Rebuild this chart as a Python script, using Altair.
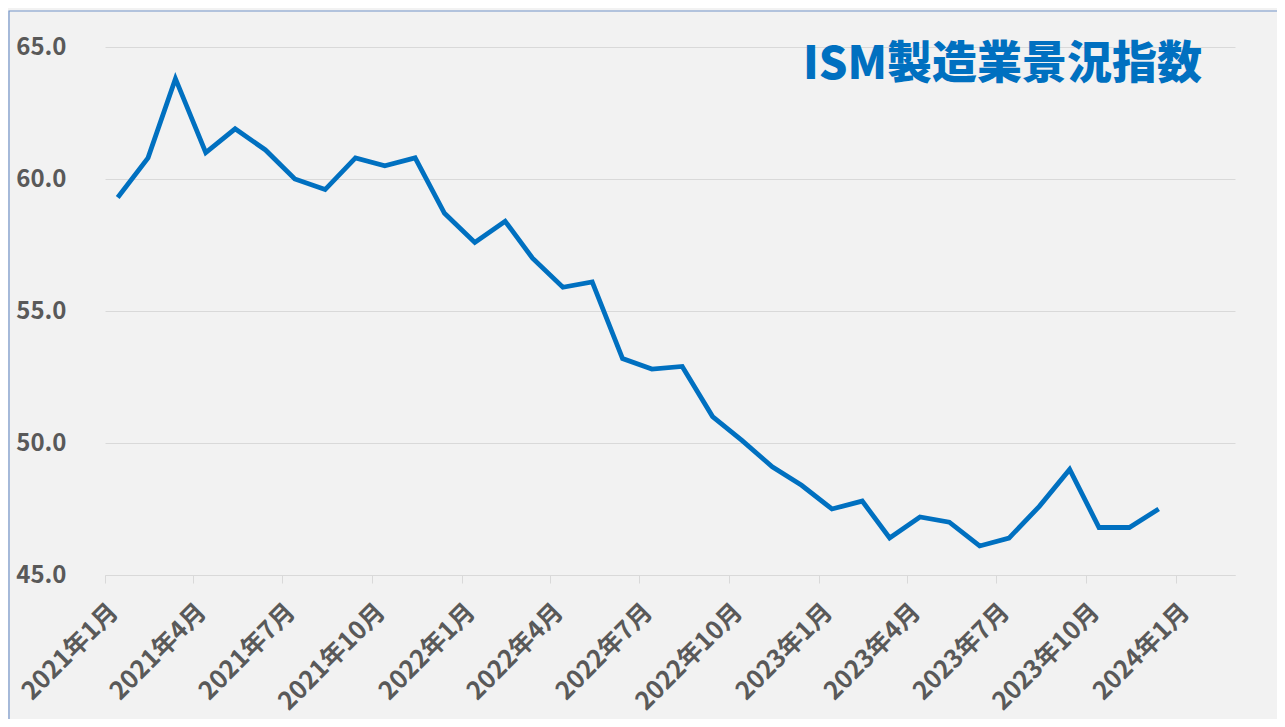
import altair as alt
import pandas as pd

# Data
dates = [
    "2021-01-14", "2021-02-14", "2021-03-14", "2021-04-14", "2021-05-14", "2021-06-14",
    "2021-07-14", "2021-08-14", "2021-09-14", "2021-10-14", "2021-11-14", "2021-12-14",
    "2022-01-14", "2022-02-14", "2022-03-14", "2022-04-14", "2022-05-14", "2022-06-14",
    "2022-07-14", "2022-08-14", "2022-09-14", "2022-10-14", "2022-11-14", "2022-12-14",
    "2023-01-14", "2023-02-14", "2023-03-14", "2023-04-14", "2023-05-14", "2023-06-14",
    "2023-07-14", "2023-08-14", "2023-09-14", "2023-10-14", "2023-11-14", "2023-12-14",
]
values = [
    59.3, 60.8, 63.8, 61.0, 61.9, 61.1, 60.0, 59.6, 60.8, 60.5, 60.8, 58.7,
    57.6, 58.4, 57.0, 55.9, 56.1, 53.2, 52.8, 52.9, 51.0, 50.1, 49.1, 48.4,
    47.5, 47.8, 46.4, 47.2, 47.0, 46.1, 46.4, 47.6, 49.0, 46.8, 46.8, 47.5,
]
tick_years = [2021, 2021, 2021, 2021, 2022, 2022, 2022, 2022, 2023, 2023, 2023, 2023, 2024]
tick_months = [1, 4, 7, 10, 1, 4, 7, 10, 1, 4, 7, 10, 1]
y_ticks = [45, 50, 55, 60, 65]
title_text = ["ISM製造業景況指数"]

df = pd.DataFrame({"date": dates, "value": values})

FONT = "Noto Sans CJK JP"
GREY = "#595959"
GRID = "#d9d9d9"
BLUE = "#0070c0"

x_domain = [alt.DateTime(year=2021, month=1, date=1, utc=True),
            alt.DateTime(year=2024, month=3, date=1, utc=True)]
x_values = [alt.DateTime(year=yy, month=mm, date=1, utc=True)
            for yy, mm in zip(tick_years, tick_months)]

line = alt.Chart(df).mark_line(color=BLUE, strokeWidth=4.8, strokeJoin="miter").encode(
    x=alt.X("date:T",
            scale=alt.Scale(type="utc", domain=x_domain),
            axis=alt.Axis(values=x_values, format="%Y年%-m月", title=None,
                          labelAngle=-45, labelAlign="right", labelBaseline="top",
                          labelPadding=16, labelFont=FONT, labelFontSize=25,
                          labelFontWeight="bold", labelColor=GREY,
                          tickColor=GRID, tickSize=8, domainColor=GRID,
                          grid=False, labelOverlap=False)),
    y=alt.Y("value:Q",
            scale=alt.Scale(domain=[45, 65], nice=False, zero=False),
            axis=alt.Axis(values=y_ticks, format=".1f", title=None,
                          labelFont=FONT, labelFontSize=24, labelFontWeight="bold",
                          labelColor=GREY, labelPadding=39, ticks=False,
                          domain=False, grid=True, gridColor=GRID, gridWidth=1.2)),
)

border = alt.Chart(pd.DataFrame({"a": [0]})).mark_rect(
    fill=None, stroke="#7394c8", strokeWidth=1.2
).encode(
    x=alt.value(-96), x2=alt.value(1200),
    y=alt.value(-36), y2=alt.value(720),
)

title = alt.Chart(pd.DataFrame({"t": title_text})).mark_text(
    font=FONT, fontSize=45, fontWeight=900, color=BLUE,
    align="right", baseline="middle",
).encode(
    text="t:N",
    x=alt.value(1097),
    y=alt.value(18),
)

chart = alt.layer(border, line, title).properties(
    width=1130,
    height=528,
    padding={"left": 97, "top": 39, "right": 42, "bottom": 144},
    autosize=alt.AutoSizeParams(type="none"),
).configure(
    background="#f2f2f2",
).configure_view(
    stroke=None,
)

chart.save("out.html", embed_options={"renderer": "svg", "actions": False})
